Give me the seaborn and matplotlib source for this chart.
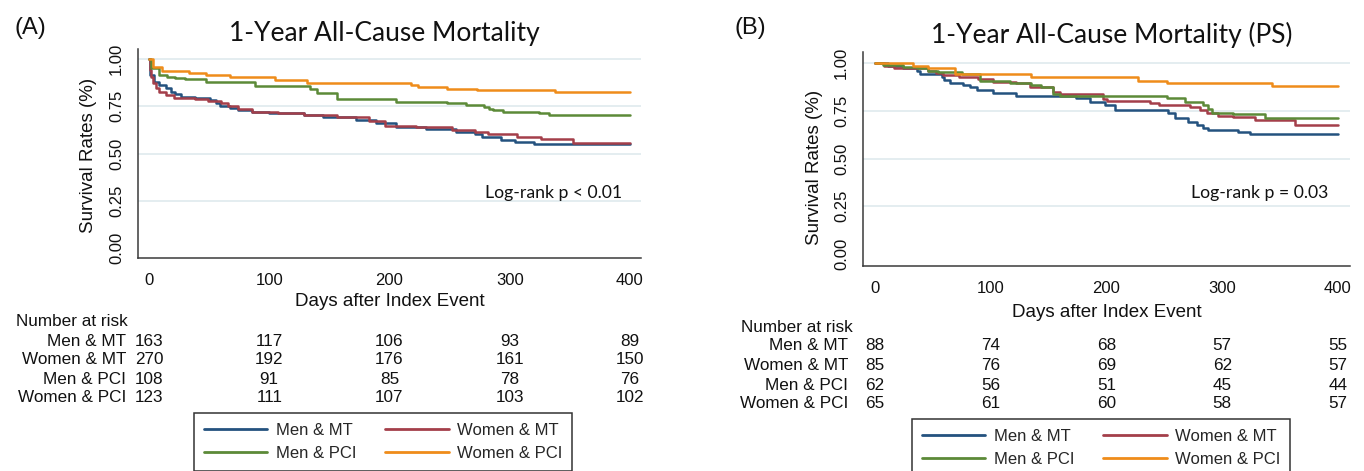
import numpy as np
import pandas as pd
import seaborn as sns
import matplotlib.pyplot as plt
from matplotlib.lines import Line2D
from matplotlib.transforms import blended_transform_factory

# groups and colours (Stata s2color-like)
groups = ['Men & MT', 'Women & MT', 'Men & PCI', 'Women & PCI']
colors = ['#24527f', '#a43f4a', '#5c8a38', '#ef8c1a']
time_ticks = [0, 100, 200, 300, 400]
surv_ticks = [0.0, 0.25, 0.5, 0.75, 1.0]

# ---- panel A: 1-year all-cause mortality ----
a_men_mt_day = [0, 1, 4, 8, 14, 18, 22, 27, 38, 51, 56, 59, 67, 74, 86, 100, 129, 145, 172, 189,
                205, 230, 255, 271, 277, 293, 304, 320, 400]
a_men_mt_surv = [1.0, 0.915, 0.88, 0.862, 0.845, 0.827, 0.815, 0.80, 0.792, 0.783, 0.765, 0.751, 0.739,
                 0.73, 0.721, 0.713, 0.704, 0.695, 0.677, 0.66, 0.638, 0.628, 0.616, 0.603, 0.586,
                 0.571, 0.563, 0.55, 0.55]
a_women_mt_day = [0, 1, 2, 3, 6, 8, 14, 21, 38, 49, 60, 66, 74, 86, 107, 129, 156, 183, 196, 222,
                  252, 271, 282, 306, 326, 353, 400]
a_women_mt_surv = [1.0, 0.942, 0.906, 0.871, 0.845, 0.827, 0.81, 0.792, 0.787, 0.78, 0.765, 0.751,
                   0.734, 0.721, 0.713, 0.704, 0.691, 0.674, 0.648, 0.638, 0.624, 0.612, 0.602,
                   0.589, 0.575, 0.557, 0.557]
a_men_pci_day = [0, 2, 8, 15, 22, 30, 47, 88, 134, 140, 156, 205, 248, 264, 279, 283, 286, 294,
                 324, 333, 400]
a_men_pci_surv = [1.0, 0.95, 0.915, 0.907, 0.898, 0.892, 0.877, 0.859, 0.84, 0.818, 0.787, 0.774,
                  0.765, 0.755, 0.744, 0.735, 0.728, 0.72, 0.713, 0.702, 0.702]
a_women_pci_day = [0, 3, 11, 33, 47, 67, 105, 131, 218, 224, 248, 273, 338, 400]
a_women_pci_surv = [1.0, 0.96, 0.938, 0.924, 0.915, 0.903, 0.89, 0.871, 0.862, 0.85, 0.843, 0.836,
                    0.827, 0.827]
a_risk_men_mt = [163, 117, 106, 93, 89]
a_risk_women_mt = [270, 192, 176, 161, 150]
a_risk_men_pci = [108, 91, 85, 78, 76]
a_risk_women_pci = [123, 111, 107, 103, 102]

# ---- panel B: propensity-score matched ----
b_men_mt_day = [0, 11, 24, 36, 39, 58, 60, 65, 76, 82, 88, 102, 122, 174, 186, 199, 207, 253, 259,
                270, 278, 283, 288, 314, 324, 400]
b_men_mt_surv = [1.0, 0.985, 0.976, 0.96, 0.942, 0.928, 0.911, 0.897, 0.885, 0.873, 0.859, 0.841,
                 0.827, 0.815, 0.797, 0.78, 0.754, 0.736, 0.71, 0.693, 0.675, 0.658, 0.649, 0.64,
                 0.627, 0.627]
b_women_mt_day = [0, 8, 16, 46, 53, 59, 73, 89, 102, 122, 134, 154, 160, 197, 200, 238, 245, 272,
                  281, 287, 296, 309, 328, 363, 400]
b_women_mt_surv = [1.0, 0.985, 0.972, 0.96, 0.949, 0.937, 0.928, 0.915, 0.902, 0.894, 0.876, 0.85,
                   0.836, 0.812, 0.801, 0.789, 0.78, 0.768, 0.754, 0.736, 0.724, 0.719, 0.702,
                   0.675, 0.675]
b_men_pci_day = [0, 7, 24, 36, 46, 54, 75, 91, 117, 135, 143, 154, 160, 252, 268, 283, 288, 291,
                 309, 337, 400]
b_men_pci_surv = [1.0, 0.99, 0.98, 0.972, 0.96, 0.955, 0.941, 0.907, 0.894, 0.885, 0.873, 0.836,
                  0.827, 0.815, 0.797, 0.78, 0.757, 0.74, 0.731, 0.714, 0.714]
b_women_pci_day = [0, 33, 46, 69, 135, 227, 252, 343, 400]
b_women_pci_surv = [1.0, 0.986, 0.972, 0.941, 0.925, 0.907, 0.894, 0.88, 0.88]
b_risk_men_mt = [88, 74, 68, 57, 55]
b_risk_women_mt = [85, 76, 69, 62, 57]
b_risk_men_pci = [62, 56, 51, 45, 44]
b_risk_women_pci = [65, 61, 60, 58, 57]

W, H = 1364, 471


def fx(px):
    return px / W


def fy(py):
    return 1 - py / H


def km_frame(days, survs):
    parts = [pd.DataFrame({'day': d, 'surv': s, 'group': g}) for g, d, s in zip(groups, days, survs)]
    return pd.concat(parts, ignore_index=True)


df_a = km_frame([a_men_mt_day, a_women_mt_day, a_men_pci_day, a_women_pci_day],
                [a_men_mt_surv, a_women_mt_surv, a_men_pci_surv, a_women_pci_surv])
df_b = km_frame([b_men_mt_day, b_women_mt_day, b_men_pci_day, b_women_pci_day],
                [b_men_mt_surv, b_women_mt_surv, b_men_pci_surv, b_women_pci_surv])

sns.set_theme(style='white')
plt.rcParams['font.family'] = ['Liberation Sans', 'DejaVu Sans']

fig = plt.figure(figsize=(W / 100, H / 100), dpi=100)

panels = [
    dict(df=df_a, risk=[a_risk_men_mt, a_risk_women_mt, a_risk_men_pci, a_risk_women_pci],
         title='1-Year All-Cause Mortality', tag='(A)', logrank='Log-rank p < 0.01',
         box=(138, 49, 641, 258), x0=149, x400=630, y1=59, y0=248,
         title_xy=(384, 34), tag_xy=(15, 28), lr_xy=(485, 193),
         ylab_x=97, ylab_y=155, xlab_top=293,
         head_xy=(16, 322), lab_right=126, rows=[341, 360, 379, 398],
         leg_xy=(194, 413)),
    dict(df=df_b, risk=[b_risk_men_mt, b_risk_women_mt, b_risk_men_pci, b_risk_women_pci],
         title='1-Year All-Cause Mortality (PS)', tag='(B)', logrank='Log-rank p = 0.03',
         box=(863, 52, 1350, 266), x0=875, x400=1338, y1=63, y0=254,
         title_xy=(1112, 35), tag_xy=(734, 28), lr_xy=(1191, 193),
         ylab_x=823, ylab_y=167, xlab_top=304,
         head_xy=(741, 327), lab_right=848, rows=[346, 366, 385, 404],
         leg_xy=(912, 419)),
]

for p in panels:
    l, t, r, b = p['box']
    ax = fig.add_axes([fx(l), fy(b), (r - l) / W, (b - t) / H])
    sns.lineplot(data=p['df'], x='day', y='surv', hue='group', hue_order=groups, palette=colors,
                 drawstyle='steps-post', estimator=None, sort=False, lw=1.8, legend=False, ax=ax)

    # axis limits so that ticks land where the Stata plot region puts them
    xs = (p['x400'] - p['x0']) / 400
    ys = p['y0'] - p['y1']
    ax.set_xlim(-(p['x0'] - l) / xs, 400 + (r - p['x400']) / xs)
    ax.set_ylim(-(b - p['y0']) / ys, 1 + (p['y1'] - t) / ys)
    ax.set_xticks(time_ticks)
    ax.set_yticks(surv_ticks)
    ax.set_yticklabels([f'{v:.2f}' for v in surv_ticks], rotation=90, va='center', ha='right')

    ax.yaxis.grid(True, color='#e4edf0', lw=1.4)
    ax.yaxis.get_gridlines()[0].set_visible(False)
    ax.set_axisbelow(True)
    sns.despine(ax=ax)
    for s in ['left', 'bottom']:
        ax.spines[s].set_color('#3a3a3a')
        ax.spines[s].set_linewidth(1.1)
    ax.tick_params(axis='both', length=5, width=1.1, color='#3a3a3a', labelsize=12, labelcolor='#111')
    ax.tick_params(axis='x', pad=6)
    ax.tick_params(axis='y', pad=5)

    ax.set_xlabel('Days after Index Event', fontsize=13.5, color='#111')
    ax.xaxis.set_label_coords(0.5, (b - p['xlab_top']) / (b - t))
    ax.set_ylabel('Survival Rates (%)', fontsize=13.5, color='#111')
    ax.yaxis.set_label_coords((p['ylab_x'] - l) / (r - l), (b - p['ylab_y']) / (b - t))

    fig.text(fx(p['title_xy'][0]), fy(p['title_xy'][1]), p['title'], family='Lato', fontsize=19,
             ha='center', va='center', color='#111')
    fig.text(fx(p['tag_xy'][0]), fy(p['tag_xy'][1]), p['tag'], fontsize=17, ha='left', va='center',
             color='#111')
    fig.text(fx(p['lr_xy'][0]), fy(p['lr_xy'][1]), p['logrank'], family='Lato', fontsize=12.7,
             ha='left', va='center', color='#111')

    # number at risk table
    fig.text(fx(p['head_xy'][0]), fy(p['head_xy'][1]), 'Number at risk', fontsize=12.3,
             ha='left', va='center', color='#111')
    tr = blended_transform_factory(ax.transData, fig.transFigure)
    for g, counts, row in zip(groups, p['risk'], p['rows']):
        fig.text(fx(p['lab_right']), fy(row), g, fontsize=12.3, ha='right', va='center', color='#111')
        for tt, n in zip(time_ticks, counts):
            ax.text(tt, fy(row), str(n), transform=tr, fontsize=12.3, ha='center', va='center',
                    color='#111', clip_on=False)

    handles = [Line2D([], [], color=c, lw=2) for c in colors]
    order = [0, 2, 1, 3]
    leg = ax.legend([handles[i] for i in order], [groups[i] for i in order], ncol=2,
                    loc='upper left', bbox_to_anchor=(fx(p['leg_xy'][0]), fy(p['leg_xy'][1])),
                    bbox_transform=fig.transFigure, fontsize=12, frameon=True, fancybox=False,
                    edgecolor='#333', framealpha=1, handlelength=3.8, handletextpad=0.5,
                    columnspacing=1.75, borderpad=0.6, labelspacing=0.48, borderaxespad=0)
    leg.get_frame().set_linewidth(1.1)

fig.savefig('out.png', dpi=100)
